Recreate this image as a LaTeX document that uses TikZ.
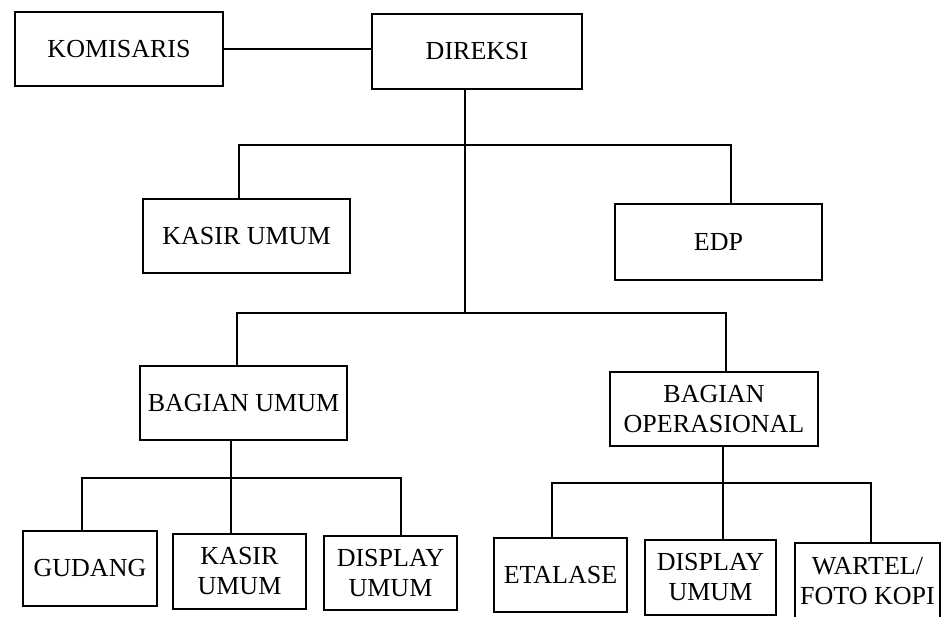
\documentclass[tikz,border=0pt]{standalone}
\usepackage{fontspec}
\setmainfont{Liberation Serif}

\begin{document}
\begin{tikzpicture}[x=1pt, y=-1pt,
  every node/.style={font=\fontsize{26}{30}\selectfont},
  bigbox/.style={draw, line width=1.4pt, minimum width=208pt, minimum height=74pt, align=center, inner sep=2pt},
  smallbox/.style={bigbox, minimum width=133pt, minimum height=75pt},
  link/.style={line width=1.3pt}]
\useasboundingbox (0,0) rectangle (943,617);

% Top level
\node[bigbox] (komisaris) at (119,49) {KOMISARIS};
\node[bigbox, minimum width=210pt, minimum height=75pt] (direksi) at (477,51.5) {DIREKSI};

% Staff under Direksi
\node[bigbox, minimum width=207pt] (kasirumum) at (246.5,236) {KASIR UMUM};
\node[bigbox, minimum width=207pt, minimum height=76pt] (edp) at (718.5,242) {EDP};

% Departments
\node[bigbox, minimum width=207pt] (bagumum) at (243.5,403) {BAGIAN UMUM};
\node[bigbox] (bagops) at (714,409) {BAGIAN\\OPERASIONAL};

% Units of Bagian Umum
\node[smallbox, minimum width=134pt] (gudang) at (90,568.5) {GUDANG};
\node[smallbox] (kasir) at (239.5,571.5) {KASIR\\UMUM};
\node[smallbox, minimum height=74pt] (displayA) at (390.5,573) {DISPLAY\\UMUM};

% Units of Bagian Operasional
\node[smallbox, minimum height=74pt] (etalase) at (560.5,575) {ETALASE};
\node[smallbox, minimum width=131pt] (displayB) at (710.5,577.5) {DISPLAY\\UMUM};
\node[smallbox, minimum width=145pt, minimum height=77pt] (wartel) at (867.5,581.5) {WARTEL/\\FOTO KOPI};

% Junctions
\coordinate (spine) at (465,313);
\coordinate (b1l) at (239,145);
\coordinate (b1r) at (731,145);
\coordinate (b2l) at (237,313);
\coordinate (b2r) at (726,313);
\coordinate (b3l) at (82,478);
\coordinate (b3m) at (231,478);
\coordinate (b3r) at (401,478);
\coordinate (b4l) at (552,483);
\coordinate (b4m) at (723,483);
\coordinate (b4r) at (871,483);

% Connectors
\draw[link] (komisaris.east) -- (komisaris.east -| direksi.west);
\draw[link] (spine |- direksi.south) -- (spine);
\draw[link] (b1l |- kasirumum.north) -- (b1l) -- (b1r) -- (b1r |- edp.north);
\draw[link] (b2l |- bagumum.north) -- (b2l) -- (b2r) -- (b2r |- bagops.north);

\draw[link] (b3m |- bagumum.south) -- (b3m |- kasir.north);
\draw[link] (b3l |- gudang.north) -- (b3l) -- (b3r) -- (b3r |- displayA.north);

\draw[link] (b4m |- bagops.south) -- (b4m |- displayB.north);
\draw[link] (b4l |- etalase.north) -- (b4l) -- (b4r) -- (b4r |- wartel.north);
\end{tikzpicture}
\end{document}
